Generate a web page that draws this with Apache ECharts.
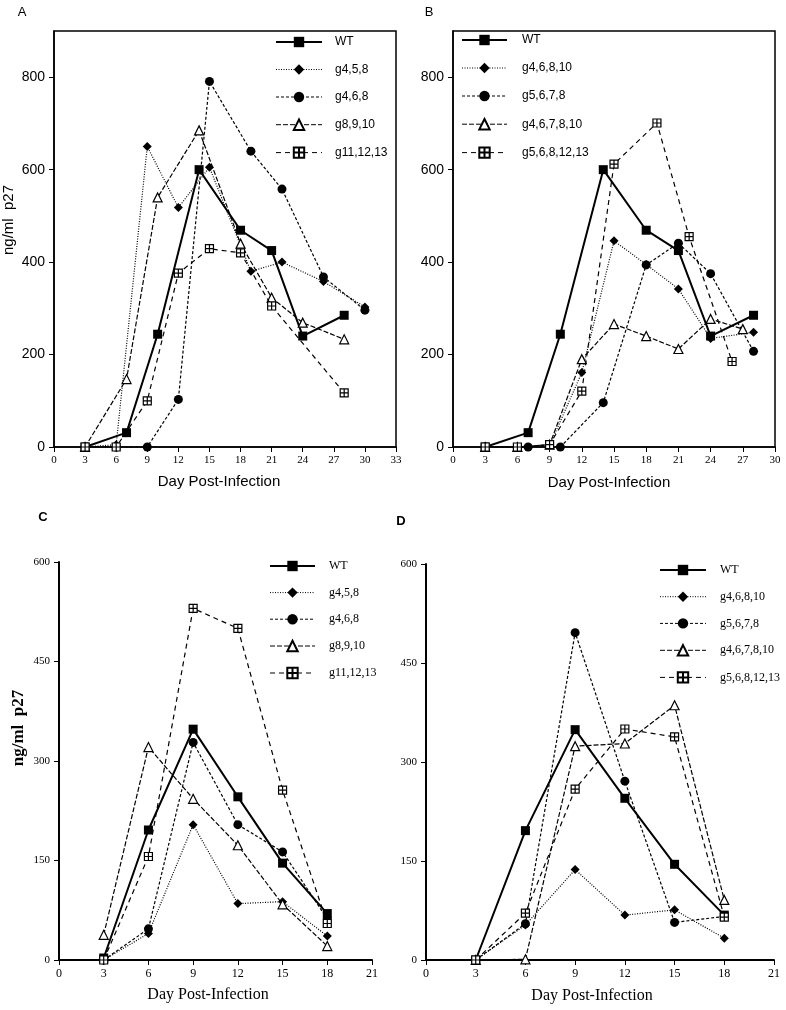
<!DOCTYPE html>
<html>
<head>
<meta charset="utf-8">
<script src="https://cdn.jsdelivr.net/npm/echarts@6/dist/echarts.min.js"></script>
<style>
  html, body { margin: 0; padding: 0; background: #fff; }
  #chart { width: 786px; height: 1010px; }
</style>
</head>
<body>
<div id="chart"></div>
<script>
// ---- data (day, ng/ml p27) ----
// panel A
const aNames = ['WT', 'g4,5,8', 'g4,6,8', 'g8,9,10', 'g11,12,13'];
const aWtDays = [3, 7, 10, 14, 18, 21, 24, 28];
const aWtVals = [0, 31, 244, 600, 469, 425, 240, 285];
const aG458Days = [3, 6, 9, 12, 15, 19, 22, 26, 30];
const aG458Vals = [0, 5, 650, 518, 605, 380, 400, 358, 303];
const aG468Days = [3, 6, 9, 12, 15, 19, 22, 26, 30];
const aG468Vals = [0, 0, 0, 103, 791, 640, 558, 368, 296];
const aG8910Days = [3, 7, 10, 14, 18, 21, 24, 28];
const aG8910Vals = [0, 147, 540, 685, 440, 323, 269, 233];
const aG111213Days = [3, 6, 9, 12, 15, 18, 21, 28];
const aG111213Vals = [0, 0, 100, 376, 429, 420, 305, 117];

// panel B
const bNames = ['WT', 'g4,6,8,10', 'g5,6,7,8', 'g4,6,7,8,10', 'g5,6,8,12,13'];
const bWtDays = [3, 7, 10, 14, 18, 21, 24, 28];
const bWtVals = [0, 31, 244, 600, 469, 425, 240, 285];
const bG46810Days = [3, 6, 9, 12, 15, 18, 21, 24, 28];
const bG46810Vals = [0, 0, 3, 161, 446, 395, 342, 235, 248];
const bG5678Days = [3, 7, 10, 14, 18, 21, 24, 28];
const bG5678Vals = [0, 0, 0, 96, 394, 441, 375, 207];
const bG467810Days = [3, 6, 9, 12, 15, 18, 21, 24, 27];
const bG467810Vals = [0, 0, 5, 190, 266, 240, 212, 277, 255];
const bG5681213Days = [3, 6, 9, 12, 15, 19, 22, 26];
const bG5681213Vals = [0, 0, 5, 121, 612, 701, 455, 185];

// panels C and D share the sampling days
const cdDays = [3, 6, 9, 12, 15, 18];
const cWtVals = [3, 196, 348, 246, 146, 70];
const cG458Vals = [0, 40, 204, 85, 88, 36];
const cG468Vals = [0, 47, 328, 204, 163, 62];
const cG8910Vals = [38, 321, 243, 173, 84, 21];
const cG111213Vals = [0, 156, 530, 500, 256, 55];

const dWtVals = [0, 196, 349, 245, 145, 68];
const dG46810Vals = [0, 53, 137, 68, 76, 33];
const dG5678Vals = [0, 55, 496, 271, 57, 66];
const dG467810Vals = [0, 1, 324, 328, 386, 91];
const dG5681213Vals = [0, 71, 259, 350, 338, 65];

const abYTicks = [0, 200, 400, 600, 800];
const cdYTicks = [0, 150, 300, 450, 600];

// ---- styles (one per line position in the legends) ----
const SANS = '"Liberation Sans", Arial, sans-serif';
const SERIF = '"Liberation Serif", "Times New Roman", serif';
const boxCross = 'path://M0,0L10,0L10,10L0,10Z M5,0L5,10 M0,5L10,5';
const styles = [
  { symbol: 'rect', size: 9, fill: '#000', dash: 'solid', width: 2 },
  { symbol: 'diamond', size: 9, fill: '#000', dash: [1, 1.5], width: 1.2 },
  { symbol: 'circle', size: 9, fill: '#000', dash: [3, 2], width: 1.2 },
  { symbol: 'triangle', size: 9, fill: '#fff', dash: [5, 2], width: 1.2 },
  { symbol: boxCross, size: 8, fill: '#fff', dash: [5, 4], width: 1.2 }
];

function pairs(xs, ys) { return xs.map((x, i) => [x, ys[i]]); }

function line(name, k, grid, xs, ys) {
  const s = styles[k];
  return {
    name: name, type: 'line', xAxisIndex: grid, yAxisIndex: grid,
    data: pairs(xs, ys),
    symbol: s.symbol, symbolSize: s.size, symbolKeepAspect: true,
    lineStyle: { color: '#000', width: s.width, type: s.dash },
    itemStyle: { color: s.fill, borderColor: '#000', borderWidth: s.fill === '#fff' ? 1.2 : 0 },
    emphasis: { disabled: true },
    z: 2 + k
  };
}

const series = [
  line(aNames[0], 0, 0, aWtDays, aWtVals),
  line(aNames[1], 1, 0, aG458Days, aG458Vals),
  line(aNames[2], 2, 0, aG468Days, aG468Vals),
  line(aNames[3], 3, 0, aG8910Days, aG8910Vals),
  line(aNames[4], 4, 0, aG111213Days, aG111213Vals),
  line(bNames[0], 0, 1, bWtDays, bWtVals),
  line(bNames[1], 1, 1, bG46810Days, bG46810Vals),
  line(bNames[2], 2, 1, bG5678Days, bG5678Vals),
  line(bNames[3], 3, 1, bG467810Days, bG467810Vals),
  line(bNames[4], 4, 1, bG5681213Days, bG5681213Vals),
  line(aNames[0], 0, 2, cdDays, cWtVals),
  line(aNames[1], 1, 2, cdDays, cG458Vals),
  line(aNames[2], 2, 2, cdDays, cG468Vals),
  line(aNames[3], 3, 2, cdDays, cG8910Vals),
  line(aNames[4], 4, 2, cdDays, cG111213Vals),
  line(bNames[0], 0, 3, cdDays, dWtVals),
  line(bNames[1], 1, 3, cdDays, dG46810Vals),
  line(bNames[2], 2, 3, cdDays, dG5678Vals),
  line(bNames[3], 3, 3, cdDays, dG467810Vals),
  line(bNames[4], 4, 3, cdDays, dG5681213Vals)
];

function xAxis(grid, max, lw) {
  return {
    type: 'value', gridIndex: grid, min: 0, max: max, interval: 3,
    axisLine: { lineStyle: { color: '#000', width: lw } },
    axisTick: { inside: false, length: 5, lineStyle: { color: '#000', width: 1 } },
    axisLabel: { color: '#000', fontFamily: SERIF, fontSize: grid < 2 ? 11 : 12, margin: 8 },
    splitLine: { show: false }
  };
}

function yAxis(grid, max, step, ticks, font, size, lw) {
  return {
    type: 'value', gridIndex: grid, min: 0, max: max, interval: step,
    axisLine: { show: true, lineStyle: { color: '#000', width: lw } },
    axisTick: { show: true, inside: false, length: 5, customValues: ticks, lineStyle: { color: '#000', width: 1 } },
    axisLabel: { color: '#000', fontFamily: font, fontSize: size, margin: 9, customValues: ticks },
    splitLine: { show: false }
  };
}

// legend rows: thin 1px sample lines, WT keeps its heavier stroke
function legend(names, left, top, width, gap, pad, font, size) {
  return {
    data: names.map((n, k) => ({ name: n, lineStyle: { width: k === 0 ? 2 : 1 } })),
    orient: 'vertical', left: left, top: top, padding: 0,
    itemWidth: width, itemHeight: 13, itemGap: gap, selectedMode: false,
    textStyle: { color: '#000', fontFamily: font, fontSize: size, padding: [0, 0, 0, pad] }
  };
}

function txt(text, x, y, font, rot) {
  return {
    type: 'text', x: x, y: y, rotation: rot || 0, silent: true,
    style: { text: text, font: font, fill: '#000', textAlign: 'center', textVerticalAlign: 'middle' }
  };
}

const chart = echarts.init(document.getElementById('chart'), null, { renderer: 'canvas' });
chart.setOption({
  animation: false,
  backgroundColor: '#fff',
  grid: [
    { left: 54, top: 31, width: 342, height: 416, show: true, borderColor: '#000', borderWidth: 1.5 },
    { left: 453, top: 31, width: 322, height: 416, show: true, borderColor: '#000', borderWidth: 1.5 },
    { left: 59, top: 562, width: 313, height: 398 },
    { left: 426, top: 564, width: 348, height: 396 }
  ],
  xAxis: [xAxis(0, 33, 1.5), xAxis(1, 30, 1.5), xAxis(2, 21, 2), xAxis(3, 21, 2)],
  yAxis: [
    yAxis(0, 900, 200, abYTicks, SANS, 14, 1.5),
    yAxis(1, 900, 200, abYTicks, SANS, 14, 1.5),
    yAxis(2, 600, 150, cdYTicks, SERIF, 11, 2),
    yAxis(3, 600, 150, cdYTicks, SERIF, 11, 2)
  ],
  legend: [
    legend(aNames, 275, 36, 46, 15.5, 8, SANS, 12),
    legend(bNames, 461, 34, 45, 16, 10, SANS, 12),
    legend(aNames, 269, 560, 45, 14.6, 9, SERIF, 12),
    legend(bNames, 659, 564, 46, 14.7, 9, SERIF, 12)
  ],
  graphic: [
    txt('A', 22, 12, '13px ' + SANS),
    txt('B', 429, 12, '13px ' + SANS),
    txt('C', 43, 517, 'bold 13px ' + SANS),
    txt('D', 401, 521, 'bold 13px ' + SANS),
    txt('ng/ml  p27', 9, 220, '15px ' + SANS, Math.PI / 2),
    txt('ng/ml  p27', 19, 728, 'bold 17px ' + SERIF, Math.PI / 2),
    txt('Day Post-Infection', 219, 482, '15px ' + SANS),
    txt('Day Post-Infection', 609, 483, '15px ' + SANS),
    txt('Day Post-Infection', 208, 995, '16px ' + SERIF),
    txt('Day Post-Infection', 592, 996, '16px ' + SERIF)
  ],
  series: series
});
</script>
</body>
</html>
